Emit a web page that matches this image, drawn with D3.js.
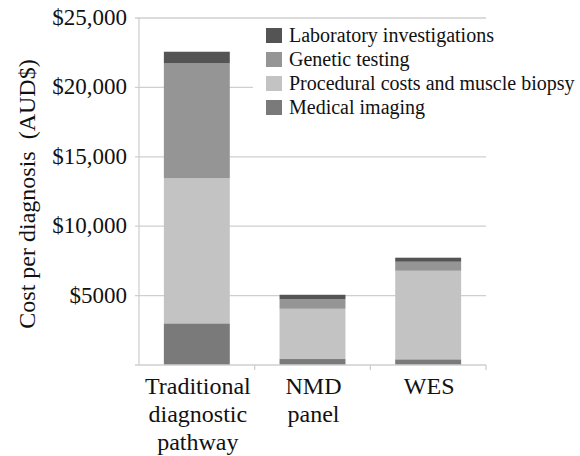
<!DOCTYPE html>
<html><head><meta charset="utf-8">
<script src="https://cdn.jsdelivr.net/npm/d3@7"></script>
<style>body{margin:0;background:#fff;}</style>
</head><body><svg id="c" width="580" height="456" style="display:block"></svg>
<script>
const categories = [["Traditional","diagnostic","pathway"],["NMD","panel"],["WES"]];
const categoryKeys = ["Traditional","NMD","WES"];
const seriesNames = ["Medical imaging","Procedural costs and muscle biopsy","Genetic testing","Laboratory investigations"];
const medicalImaging = [3000, 430, 410];
const procedural = [10450, 3620, 6380];
const genetic = [8280, 680, 650];
const laboratory = [840, 330, 290];
const colors = ["#7a7a7a","#c3c3c3","#959595","#545454"];
const yTicks = [5000,10000,15000,20000,25000];
const yTickLabels = ["$5000","$10,000","$15,000","$20,000","$25,000"];
const legendOrder = [3,2,1,0];

const svg = d3.select("#c");
const x = d3.scaleBand().domain(categoryKeys).range([139,486]).paddingInner(0.43).paddingOuter(0.215);
const y = d3.scaleLinear().domain([0,25000]).range([365,18]);
const grid = "#cfcfcf";

svg.append("g").selectAll("line").data(yTicks).join("line")
  .attr("x1",135).attr("x2",486).attr("y1",d=>y(d)).attr("y2",d=>y(d))
  .attr("stroke",grid).attr("stroke-width",1.3);

const table = categoryKeys.map((k,i)=>({key:k, s0:medicalImaging[i], s1:procedural[i], s2:genetic[i], s3:laboratory[i]}));
const stack = d3.stack().keys(["s0","s1","s2","s3"])(table);
svg.append("g").selectAll("g").data(stack).join("g").attr("fill",(d,i)=>colors[i])
  .selectAll("rect").data(d=>d).join("rect")
  .attr("x",d=>x(d.data.key)).attr("width",x.bandwidth())
  .attr("y",d=>y(d[1])).attr("height",d=>y(d[0])-y(d[1]));

svg.append("line").attr("x1",139).attr("x2",139).attr("y1",18).attr("y2",365).attr("stroke",grid).attr("stroke-width",1.3);
svg.append("line").attr("x1",135).attr("x2",486).attr("y1",365).attr("y2",365).attr("stroke",grid).attr("stroke-width",1.3);
const bounds = [x.range()[0]+x.step()*1, x.range()[0]+x.step()*2, x.range()[1]];
svg.append("g").selectAll("line").data(bounds).join("line")
  .attr("x1",d=>d).attr("x2",d=>d).attr("y1",365).attr("y2",370).attr("stroke",grid).attr("stroke-width",1.3);

svg.append("g").selectAll("text").data(yTicks).join("text")
  .attr("font-family","Liberation Serif")
  .attr("x",127).attr("y",d=>y(d)+7)
  .attr("text-anchor","end").attr("font-size",23).attr("fill","#111")
  .text((d,i)=>yTickLabels[i]);

svg.append("text").attr("font-family","Liberation Serif").attr("transform","translate(35,194) rotate(-90)")
  .attr("text-anchor","middle").attr("font-size",24).attr("fill","#111")
  .style("white-space","pre").text("Cost per diagnosis  (AUD$)");

const cg = svg.append("g").selectAll("text").data(categoryKeys).join("text")
  .attr("font-family","Liberation Serif")
  .attr("text-anchor","middle").attr("font-size",24).attr("fill","#111")
  .attr("x",d=>x(d)+x.bandwidth()/2+1).attr("y",394);
cg.selectAll("tspan").data((d,i)=>categories[i]).join("tspan")
  .attr("x",d=>null).attr("dy",(d,i)=>i===0?0:28).text(d=>d);
cg.each(function(d){ const cx = x(d)+x.bandwidth()/2+1; d3.select(this).selectAll("tspan").attr("x",cx); });

const lg = svg.append("g");
lg.append("rect").attr("x",253).attr("y",22).attr("width",327).attr("height",100).attr("fill","#fff");
const li = lg.selectAll("g").data(legendOrder).join("g").attr("transform",(d,i)=>`translate(266,${28+i*24})`);
li.append("rect").attr("width",16).attr("height",15).attr("fill",d=>colors[d]);
li.append("text").attr("font-family","Liberation Serif").attr("x",23).attr("y",14).attr("font-size",20).attr("fill","#111").text(d=>seriesNames[d]);
</script></body></html>
